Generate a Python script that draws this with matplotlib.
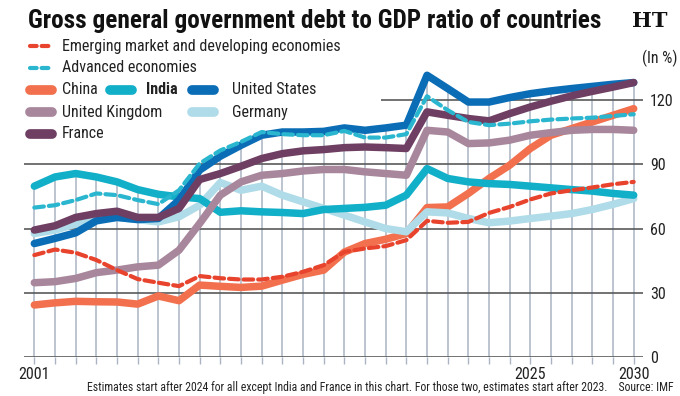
import matplotlib
matplotlib.use("Agg")
import matplotlib.pyplot as plt
from matplotlib import font_manager
from matplotlib.lines import Line2D

years = list(range(2001, 2031))

china = [24.3, 25.3, 26.0, 25.8, 25.7, 24.7, 28.5, 26.3, 33.6, 33.0, 32.5, 33.1, 35.9, 38.6, 40.6,
         49.0, 53.0, 55.0, 57.7, 69.8, 70.1, 76.4, 83.4, 89.6, 97.4, 103.6, 106.7, 109.8, 112.9, 116.0]
india = [79.8, 84.1, 85.7, 84.1, 81.8, 78.2, 76.0, 74.8, 74.0, 67.6, 68.3, 67.8, 67.5, 67.0, 68.9,
         69.4, 69.9, 70.9, 75.6, 88.0, 83.4, 81.8, 81.0, 80.6, 79.8, 79.0, 78.2, 77.5, 76.4, 75.6]
usa = [53.0, 55.4, 58.0, 63.6, 65.2, 64.2, 64.7, 73.3, 87.3, 93.8, 98.9, 103.6, 105.1, 105.1, 105.4,
       107.0, 105.9, 107.0, 108.3, 131.6, 125.4, 119.1, 119.1, 121.2, 123.0, 124.3, 125.4, 126.4, 127.4, 128.2]
uk = [34.7, 35.2, 36.7, 39.4, 40.6, 42.1, 42.9, 49.9, 62.4, 75.6, 81.8, 84.9, 85.7, 86.9, 87.6,
      87.6, 86.5, 85.7, 84.9, 105.9, 105.1, 99.7, 100.0, 101.3, 103.6, 104.8, 105.9, 106.3, 106.3, 105.9]
germany = [57.7, 59.3, 62.1, 64.2, 65.2, 64.2, 63.1, 65.5, 70.9, 81.5, 77.9, 79.8, 75.6, 72.5, 69.4,
           66.3, 63.1, 60.0, 58.5, 67.8, 67.3, 64.7, 62.7, 63.5, 64.7, 65.8, 67.0, 68.9, 71.3, 74.0]
france = [59.3, 61.3, 65.2, 67.0, 68.1, 65.2, 65.2, 69.4, 82.9, 85.7, 89.1, 92.7, 95.0, 96.3, 96.9,
          97.8, 98.1, 97.8, 97.4, 114.5, 112.9, 111.4, 110.3, 113.7, 116.8, 119.5, 122.0, 124.1, 126.1, 128.2]
emerging = [47.6, 50.2, 48.7, 45.3, 40.6, 36.4, 34.7, 33.1, 37.8, 36.8, 36.2, 36.2, 37.5, 39.8, 42.9,
            49.1, 50.7, 51.8, 54.6, 63.6, 62.7, 63.1, 67.3, 70.1, 73.6, 76.4, 77.9, 79.2, 80.7, 81.8]
advanced = [69.8, 70.9, 73.3, 76.4, 75.6, 73.3, 71.4, 77.9, 90.4, 96.5, 100.5, 105.1, 104.1, 103.6, 103.6,
            105.6, 102.5, 102.5, 104.1, 121.8, 115.3, 109.8, 108.3, 109.0, 110.1, 110.9, 111.4, 111.8, 112.6, 113.4]

labelled_years = [2001, 2025, 2030]
y_ticks = [0, 30, 60, 90, 120]

# pick a narrow sans if one is around
names = {f.name for f in font_manager.fontManager.ttflist}
FONT = 'Liberation Sans'
STRETCH = 'normal'
for cand in ['Roboto Condensed', 'Liberation Sans Narrow', 'Noto Sans Condensed', 'DejaVu Sans Condensed']:
    if cand in names:
        FONT = cand
        break
else:
    for f in font_manager.fontManager.ttflist:
        if f.name in ('Noto Sans', 'Roboto', 'Open Sans') and f.stretch in ('condensed', 'semi-condensed'):
            FONT, STRETCH = f.name, 'condensed'
            break
plt.rcParams['font.family'] = [FONT, 'DejaVu Sans']
plt.rcParams['font.stretch'] = STRETCH

W, H = 680, 396
fig = plt.figure(figsize=(6.8, 3.96), dpi=100)
ax = fig.add_axes([24 / W, 39 / H, 619 / W, 289 / H])
ax.set_xlim(2000.5, 2030.45)
ax.set_ylim(0, 135)
for s in ax.spines.values():
    s.set_visible(False)

# vertical year lines up to the top series
tops = [max(v) for v in zip(china, india, usa, uk, germany, france, emerging, advanced)]
ax.vlines(years, 0, tops, color='#aab4c2', lw=1.1, zorder=1)
for v in [0, 30, 60, 90]:
    ax.axhline(v, color='#5a5a5a', lw=1.2, zorder=1)
ax.hlines(120, 2017.75, 2030.45, color='#5a5a5a', lw=1.2, zorder=1)

solid = dict(solid_capstyle='round', solid_joinstyle='round')
ax.plot(years, china, color='#f2704e', lw=5.4, zorder=3, **solid)
ax.plot(years, germany, color='#afdce8', lw=5.4, zorder=3, **solid)
ax.plot(years, india, color='#12afc8', lw=5.4, zorder=4, **solid)
ax.plot(years, uk, color='#a8869c', lw=5.4, zorder=4, **solid)
ax.plot(years, usa, color='#0b6db5', lw=5.4, zorder=5, **solid)
ax.plot(years, france, color='#6e3f62', lw=5.4, zorder=6, **solid)
dash = dict(lw=3.0, dashes=(2.3, 1.2), dash_capstyle='round', zorder=7)
ax.plot(years, emerging, color='#e8432d', **dash)
ax.plot(years, advanced, color='#2ab6cf', **dash)

ax.set_xticks(years)
ax.set_xticklabels([str(y) if y in labelled_years else '' for y in years], fontsize=11.5)
ax.tick_params(axis='x', length=5, width=1, color='#aab4c2', pad=2, labelcolor='#222222')
ax.yaxis.tick_right()
ax.set_yticks(y_ticks)
ax.set_yticklabels([str(v) for v in y_ticks], fontsize=11.5)
ax.tick_params(axis='y', length=0, pad=5, labelcolor='#222222')


def fp(x, y):
    return x / W, 1 - y / H


fig.text(*fp(28, 21), 'Gross general government debt to GDP ratio of countries',
         fontsize=18.2, fontweight='bold', va='center', ha='left', color='#111111')
fig.text(*fp(650, 21), 'HT', family='DejaVu Serif', fontsize=15, fontweight='bold',
         va='center', ha='center', color='#111111')
fig.text(*fp(678, 58), '(In %)', fontsize=11.5, va='center', ha='right', color='#222222')
fig.text(*fp(674, 387),
         'Estimates start after 2024 for all except India and France in this chart. '
         'For those two, estimates start after 2023.    Source: IMF',
         fontsize=8.5, va='center', ha='right', color='#222222')

# legend drawn by hand
legend_rows = [
    ('Emerging market and developing economies', '#e8432d', True, 30, 46, 62, 'normal'),
    ('Advanced economies', '#2ab6cf', True, 30, 68, 62, 'normal'),
    ('China', '#f2704e', False, 30, 90, 62, 'normal'),
    ('India', '#12afc8', False, 110, 90, 146, 'bold'),
    ('United States', '#0b6db5', False, 192, 90, 232, 'normal'),
    ('United Kingdom', '#a8869c', False, 30, 112, 62, 'normal'),
    ('Germany', '#afdce8', False, 192, 112, 232, 'normal'),
    ('France', '#6e3f62', False, 30, 134, 62, 'normal'),
]
for label, col, dashed, hx, hy, tx, wt in legend_rows:
    if dashed:
        x0, y0 = fp(hx, hy)
        x1, _ = fp(hx + 20, hy)
        fig.add_artist(Line2D([x0, x1], [y0, y0], color=col, lw=3, dashes=(1.6, 1.2),
                              dash_capstyle='round'))
    else:
        x0, y0 = fp(hx, hy)
        x1, _ = fp(hx + 22, hy)
        fig.add_artist(Line2D([x0, x1], [y0, y0], color=col, lw=7, solid_capstyle='round'))
    fig.text(*fp(tx, hy), label, fontsize=11.5, fontweight=wt, va='center', ha='left',
             color='#222222')

fig.savefig('out.png', dpi=100)
